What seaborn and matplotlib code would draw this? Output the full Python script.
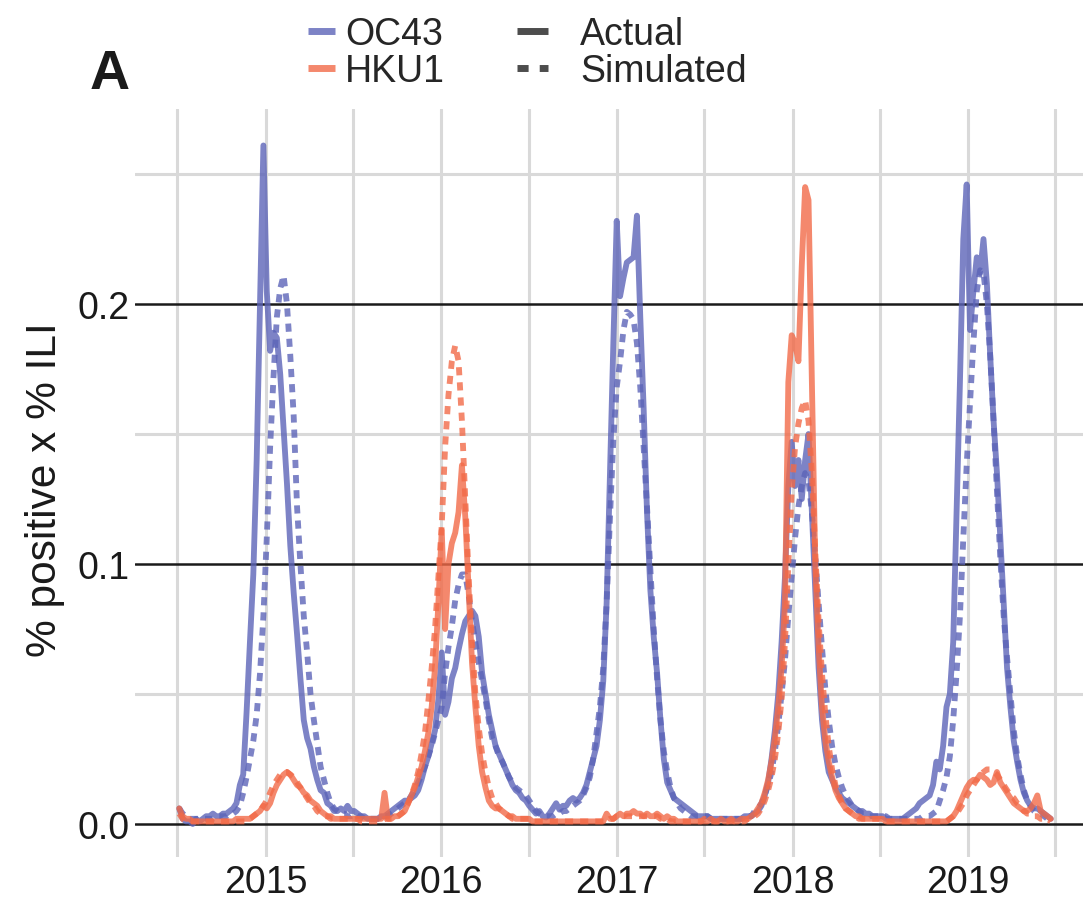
import numpy as np
import pandas as pd
import matplotlib
matplotlib.use('Agg')
import matplotlib.pyplot as plt
import matplotlib.dates as mdates
from matplotlib.ticker import FormatStrFormatter
from matplotlib.lines import Line2D
import seaborn as sns

# ── weekly series, one row per season (July -> June), 52 weeks each ──
start_date = "2014-07-05"

oc43_actual = [
    # 2014/15
    0.006, 0.002, 0.001, 0.001, 0.000, 0.002, 0.001, 0.002, 0.003, 0.003, 0.004, 0.003, 0.003, 0.004, 0.004, 0.005, 0.006, 0.008, 0.015, 0.019, 0.043, 0.070, 0.096, 0.140, 0.200, 0.261,
    0.205, 0.182, 0.189, 0.187, 0.173, 0.152, 0.131, 0.107, 0.089, 0.073, 0.056, 0.040, 0.033, 0.029, 0.022, 0.017, 0.013, 0.012, 0.008, 0.007, 0.005, 0.005, 0.006, 0.005, 0.007, 0.005,
    # 2015/16
    0.005, 0.004, 0.003, 0.003, 0.002, 0.002, 0.002, 0.002, 0.003, 0.003, 0.004, 0.005, 0.006, 0.007, 0.008, 0.009, 0.009, 0.010, 0.011, 0.013, 0.017, 0.022, 0.026, 0.031, 0.036, 0.048,
    0.066, 0.042, 0.047, 0.056, 0.060, 0.067, 0.073, 0.078, 0.080, 0.082, 0.080, 0.072, 0.058, 0.050, 0.042, 0.036, 0.030, 0.027, 0.024, 0.021, 0.018, 0.015, 0.013, 0.012, 0.010, 0.009,
    # 2016/17
    0.007, 0.0055, 0.004, 0.005, 0.003, 0.0025, 0.004, 0.006, 0.008, 0.0055, 0.007, 0.007, 0.009, 0.010, 0.009, 0.010, 0.012, 0.015, 0.020, 0.025, 0.030, 0.040, 0.055, 0.085, 0.135, 0.185,
    0.232, 0.203, 0.210, 0.216, 0.217, 0.218, 0.234, 0.195, 0.160, 0.120, 0.090, 0.072, 0.058, 0.040, 0.025, 0.016, 0.013, 0.010, 0.009, 0.008, 0.007, 0.006, 0.005, 0.004, 0.003, 0.003,
    # 2017/18
    0.003, 0.003, 0.002, 0.002, 0.002, 0.002, 0.002, 0.002, 0.002, 0.002, 0.002, 0.002, 0.003, 0.003, 0.003, 0.004, 0.005, 0.007, 0.011, 0.016, 0.025, 0.036, 0.050, 0.070, 0.095, 0.130,
    0.147, 0.130, 0.140, 0.125, 0.140, 0.150, 0.120, 0.090, 0.060, 0.040, 0.028, 0.020, 0.017, 0.014, 0.012, 0.010, 0.009, 0.008, 0.007, 0.006, 0.005, 0.005, 0.004, 0.004, 0.003, 0.003,
    # 2018/19
    0.003, 0.003, 0.002, 0.002, 0.002, 0.002, 0.002, 0.002, 0.003, 0.004, 0.005, 0.006, 0.008, 0.009, 0.010, 0.011, 0.015, 0.024, 0.021, 0.030, 0.045, 0.050, 0.070, 0.120, 0.170, 0.225,
    0.246, 0.190, 0.205, 0.218, 0.212, 0.225, 0.208, 0.180, 0.155, 0.135, 0.110, 0.085, 0.060, 0.045, 0.032, 0.024, 0.017, 0.012, 0.009, 0.007, 0.006, 0.006, 0.005, 0.004, 0.003, 0.002,
]

oc43_simulated = [
    0.006, 0.004, 0.003, 0.002, 0.002, 0.002, 0.002, 0.002, 0.002, 0.002, 0.002, 0.003, 0.003, 0.003, 0.003, 0.004, 0.004, 0.005, 0.007, 0.012, 0.018, 0.025, 0.032, 0.042, 0.058, 0.080,
    0.110, 0.145, 0.172, 0.195, 0.206, 0.211, 0.200, 0.180, 0.157, 0.122, 0.100, 0.080, 0.066, 0.050, 0.040, 0.031, 0.022, 0.017, 0.012, 0.008, 0.006, 0.005, 0.004, 0.004, 0.003, 0.003,
    0.004, 0.003, 0.003, 0.002, 0.002, 0.002, 0.002, 0.002, 0.002, 0.003, 0.003, 0.004, 0.005, 0.006, 0.007, 0.008, 0.009, 0.011, 0.013, 0.016, 0.019, 0.022, 0.026, 0.030, 0.035, 0.040,
    0.045, 0.058, 0.068, 0.076, 0.086, 0.092, 0.096, 0.096, 0.088, 0.078, 0.070, 0.062, 0.055, 0.048, 0.040, 0.033, 0.030, 0.026, 0.024, 0.021, 0.018, 0.016, 0.014, 0.013, 0.012, 0.011,
    0.009, 0.007, 0.005, 0.004, 0.003, 0.003, 0.003, 0.003, 0.004, 0.004, 0.005, 0.005, 0.006, 0.007, 0.008, 0.009, 0.011, 0.014, 0.018, 0.025, 0.035, 0.045, 0.060, 0.085, 0.118, 0.148,
    0.168, 0.178, 0.190, 0.197, 0.196, 0.194, 0.185, 0.168, 0.145, 0.122, 0.098, 0.075, 0.056, 0.040, 0.028, 0.020, 0.014, 0.010, 0.008, 0.006, 0.005, 0.004, 0.003, 0.003, 0.003, 0.003,
    0.003, 0.003, 0.002, 0.002, 0.002, 0.002, 0.002, 0.002, 0.002, 0.002, 0.002, 0.002, 0.002, 0.003, 0.003, 0.005, 0.006, 0.008, 0.011, 0.015, 0.020, 0.028, 0.038, 0.050, 0.063, 0.080,
    0.095, 0.110, 0.122, 0.130, 0.135, 0.132, 0.120, 0.103, 0.085, 0.068, 0.052, 0.040, 0.030, 0.023, 0.018, 0.014, 0.011, 0.009, 0.007, 0.006, 0.005, 0.004, 0.004, 0.003, 0.003, 0.003,
    0.003, 0.003, 0.003, 0.002, 0.002, 0.002, 0.002, 0.002, 0.002, 0.002, 0.002, 0.002, 0.002, 0.003, 0.003, 0.003, 0.004, 0.005, 0.009, 0.013, 0.018, 0.026, 0.040, 0.058, 0.080, 0.110,
    0.138, 0.162, 0.185, 0.205, 0.213, 0.212, 0.200, 0.180, 0.155, 0.128, 0.102, 0.080, 0.064, 0.050, 0.036, 0.026, 0.019, 0.013, 0.009, 0.007, 0.005, 0.004, 0.004, 0.003, 0.002, 0.002,
]

hku1_actual = [
    0.006, 0.003, 0.002, 0.002, 0.001, 0.001, 0.001, 0.001, 0.001, 0.001, 0.001, 0.001, 0.001, 0.001, 0.001, 0.001, 0.001, 0.002, 0.002, 0.002, 0.002, 0.002, 0.003, 0.004, 0.005, 0.007,
    0.006, 0.008, 0.012, 0.015, 0.017, 0.019, 0.020, 0.019, 0.017, 0.015, 0.014, 0.012, 0.011, 0.009, 0.008, 0.007, 0.005, 0.004, 0.003, 0.003, 0.002, 0.002, 0.002, 0.002, 0.002, 0.002,
    0.002, 0.002, 0.002, 0.002, 0.002, 0.002, 0.002, 0.002, 0.002, 0.012, 0.002, 0.002, 0.003, 0.003, 0.004, 0.005, 0.008, 0.011, 0.014, 0.018, 0.022, 0.028, 0.035, 0.045, 0.060, 0.085,
    0.113, 0.075, 0.100, 0.108, 0.112, 0.120, 0.138, 0.118, 0.090, 0.062, 0.045, 0.030, 0.020, 0.014, 0.009, 0.007, 0.006, 0.006, 0.005, 0.004, 0.003, 0.003, 0.002, 0.002, 0.002, 0.002,
    0.002, 0.001, 0.001, 0.001, 0.001, 0.001, 0.001, 0.001, 0.001, 0.001, 0.001, 0.001, 0.001, 0.001, 0.001, 0.001, 0.001, 0.001, 0.001, 0.001, 0.001, 0.001, 0.001, 0.004, 0.002, 0.002,
    0.003, 0.004, 0.003, 0.004, 0.004, 0.005, 0.004, 0.004, 0.003, 0.004, 0.003, 0.003, 0.004, 0.003, 0.002, 0.003, 0.002, 0.002, 0.001, 0.001, 0.001, 0.001, 0.001, 0.001, 0.001, 0.001,
    0.001, 0.001, 0.002, 0.001, 0.001, 0.002, 0.001, 0.001, 0.002, 0.001, 0.001, 0.002, 0.002, 0.002, 0.003, 0.004, 0.006, 0.008, 0.012, 0.017, 0.024, 0.033, 0.045, 0.060, 0.085, 0.170,
    0.188, 0.185, 0.178, 0.215, 0.245, 0.240, 0.170, 0.100, 0.068, 0.045, 0.032, 0.024, 0.018, 0.013, 0.010, 0.008, 0.006, 0.005, 0.004, 0.003, 0.003, 0.002, 0.002, 0.002, 0.002, 0.002,
    0.002, 0.002, 0.001, 0.001, 0.001, 0.001, 0.001, 0.001, 0.001, 0.001, 0.001, 0.001, 0.001, 0.001, 0.001, 0.001, 0.001, 0.001, 0.001, 0.001, 0.001, 0.002, 0.003, 0.005, 0.008, 0.011,
    0.014, 0.016, 0.017, 0.017, 0.019, 0.018, 0.017, 0.015, 0.016, 0.020, 0.016, 0.014, 0.012, 0.010, 0.008, 0.007, 0.006, 0.005, 0.005, 0.006, 0.008, 0.011, 0.005, 0.004, 0.003, 0.002,
]

hku1_simulated = [
    0.004, 0.002, 0.001, 0.001, 0.001, 0.001, 0.001, 0.001, 0.001, 0.001, 0.001, 0.001, 0.001, 0.001, 0.001, 0.001, 0.001, 0.001, 0.001, 0.001, 0.001, 0.002, 0.003, 0.004, 0.005, 0.007,
    0.009, 0.012, 0.015, 0.017, 0.019, 0.020, 0.020, 0.019, 0.018, 0.016, 0.014, 0.012, 0.010, 0.008, 0.007, 0.005, 0.004, 0.003, 0.003, 0.002, 0.002, 0.002, 0.002, 0.002, 0.002, 0.002,
    0.002, 0.002, 0.001, 0.001, 0.001, 0.001, 0.001, 0.001, 0.001, 0.002, 0.002, 0.002, 0.002, 0.003, 0.004, 0.005, 0.008, 0.011, 0.015, 0.020, 0.027, 0.035, 0.047, 0.060, 0.075, 0.095,
    0.115, 0.145, 0.165, 0.178, 0.184, 0.178, 0.155, 0.125, 0.095, 0.070, 0.050, 0.037, 0.027, 0.020, 0.014, 0.010, 0.008, 0.006, 0.005, 0.004, 0.003, 0.002, 0.002, 0.002, 0.002, 0.002,
    0.002, 0.001, 0.001, 0.001, 0.001, 0.001, 0.001, 0.001, 0.001, 0.001, 0.001, 0.001, 0.001, 0.001, 0.001, 0.001, 0.001, 0.001, 0.001, 0.001, 0.001, 0.001, 0.001, 0.001, 0.002, 0.002,
    0.003, 0.003, 0.003, 0.003, 0.003, 0.003, 0.003, 0.003, 0.003, 0.003, 0.003, 0.003, 0.003, 0.002, 0.002, 0.002, 0.001, 0.001, 0.001, 0.001, 0.001, 0.001, 0.001, 0.001, 0.001, 0.001,
    0.002, 0.001, 0.001, 0.001, 0.001, 0.001, 0.001, 0.001, 0.001, 0.001, 0.001, 0.001, 0.001, 0.002, 0.002, 0.003, 0.004, 0.006, 0.009, 0.013, 0.018, 0.025, 0.035, 0.048, 0.070, 0.100,
    0.128, 0.145, 0.154, 0.160, 0.163, 0.155, 0.135, 0.105, 0.078, 0.058, 0.042, 0.030, 0.021, 0.015, 0.011, 0.008, 0.006, 0.005, 0.004, 0.003, 0.002, 0.002, 0.002, 0.002, 0.002, 0.002,
    0.002, 0.001, 0.001, 0.001, 0.001, 0.001, 0.001, 0.001, 0.001, 0.001, 0.001, 0.001, 0.001, 0.001, 0.001, 0.001, 0.001, 0.001, 0.001, 0.001, 0.001, 0.002, 0.003, 0.004, 0.006, 0.008,
    0.011, 0.013, 0.015, 0.017, 0.019, 0.020, 0.021, 0.021, 0.020, 0.019, 0.017, 0.015, 0.013, 0.011, 0.010, 0.008, 0.007, 0.005, 0.004, 0.004, 0.003, 0.003, 0.002, 0.002, 0.002, 0.001,
]

viruses = ["OC43", "HKU1"]
kinds = ["Actual", "Simulated"]

oc43_color = "#5c64b8"
hku1_color = "#f26a48"

# ── long table for seaborn ──
weeks = pd.date_range(start_date, periods=len(oc43_actual), freq="7D")
series = {
    ("OC43", "Actual"): oc43_actual,
    ("OC43", "Simulated"): oc43_simulated,
    ("HKU1", "Actual"): hku1_actual,
    ("HKU1", "Simulated"): hku1_simulated,
}
frames = []
for (virus, kind), vals in series.items():
    frames.append(pd.DataFrame({"date": weeks, "value": vals, "virus": virus, "kind": kind}))
df = pd.concat(frames, ignore_index=True)

sns.set_theme(style="white")
plt.rcParams["font.family"] = ["Liberation Sans", "DejaVu Sans"]

fig = plt.figure(figsize=(10.83, 9.03), dpi=100)
ax = fig.add_axes([0.1247, 0.0498, 0.8753, 0.8283])

sns.lineplot(
    data=df, x="date", y="value",
    hue="virus", hue_order=viruses,
    style="kind", style_order=kinds,
    palette={"OC43": oc43_color, "HKU1": hku1_color},
    dashes={"Actual": "", "Simulated": (1.4, 1.2)},
    linewidth=4.2, alpha=0.8, legend=False, ax=ax,
)

# axes range & grid
ax.set_xlim(pd.Timestamp("2014-04-04"), pd.Timestamp("2019-08-28"))
ax.set_ylim(-0.0127, 0.275)
ax.xaxis.set_major_locator(mdates.YearLocator())
ax.xaxis.set_major_formatter(mdates.DateFormatter("%Y"))
ax.xaxis.set_minor_locator(mdates.MonthLocator(bymonth=7))
ax.set_yticks([0.0, 0.1, 0.2])
ax.set_yticks([0.05, 0.15, 0.25], minor=True)
ax.yaxis.set_major_formatter(FormatStrFormatter("%.1f"))

ax.grid(which="both", axis="x", color="#d9d9d9", linewidth=2.2)
ax.grid(which="minor", axis="y", color="#d9d9d9", linewidth=2.2)
ax.grid(which="major", axis="y", color="#1a1a1a", linewidth=1.8)
ax.set_axisbelow(True)

for s in ax.spines.values():
    s.set_visible(False)
ax.tick_params(which="both", length=0)
ax.tick_params(axis="y", labelsize=27, pad=4, colors="#1a1a1a")
ax.tick_params(axis="x", labelsize=27, pad=5, colors="#1a1a1a")
ax.set_xlabel("")
ax.set_ylabel("")

fig.text(45 / 1083, 1 - 490 / 903, "% positive x % ILI", rotation=90,
         ha="center", va="center", fontsize=30.5, color="#1a1a1a")

fig.text(110 / 1083, 1 - 75 / 903, "A", ha="center", va="center",
         fontsize=40, fontweight="bold", color="#1a1a1a")

# legends: colour (virus) and linetype (kind)
virus_handles = [
    Line2D([], [], color=oc43_color, lw=5, alpha=0.8, solid_capstyle="butt"),
    Line2D([], [], color=hku1_color, lw=5, alpha=0.8, solid_capstyle="butt"),
]
fig.legend(virus_handles, viruses, loc="upper left",
           bbox_to_anchor=(308 / 1083, 1 - 17 / 903), frameon=False,
           fontsize=27, handlelength=0.72, handletextpad=0.27,
           labelspacing=0.04, borderpad=0, borderaxespad=0)

kind_handles = [
    Line2D([], [], color="#4d4d4d", lw=5, solid_capstyle="butt"),
    Line2D([], [], color="#4d4d4d", lw=5, dashes=(1.6, 1.6)),
]
fig.legend(kind_handles, kinds, loc="upper left",
           bbox_to_anchor=(517 / 1083, 1 - 17 / 903), frameon=False,
           fontsize=27, handlelength=0.83, handletextpad=0.85,
           labelspacing=0.04, borderpad=0, borderaxespad=0)

fig.savefig("out.png", dpi=100)
